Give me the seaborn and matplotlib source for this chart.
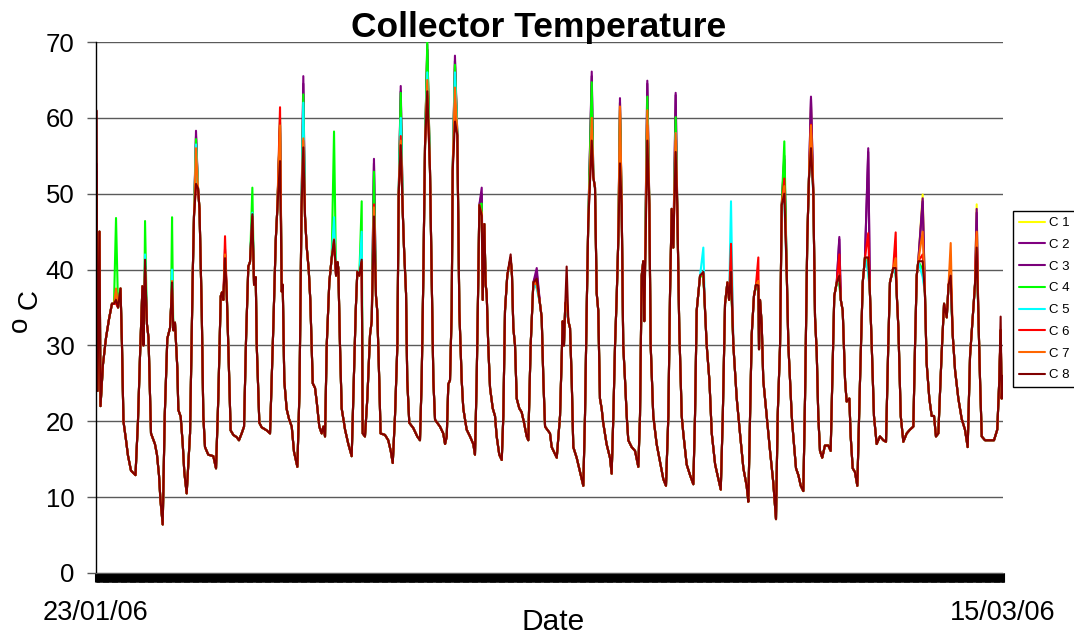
import matplotlib
matplotlib.use("Agg")
import matplotlib.pyplot as plt
from matplotlib.ticker import MultipleLocator, FixedLocator
import pandas as pd
import seaborn as sns

# shared trace (all collectors overlap away from the midday peaks), hours from start of record
base_hours = [
    0, 1.3, 3.1, 4.0, 6.2, 8.9, 11.6, 14.2, 16.0, 19.6, 21.8, 23.1, 24.4, 26.7, 28.4, 31.1, 35.1,
    37.3, 39.1, 41.3, 42.2, 42.9, 45.3, 46.7, 48.9, 52.4, 54.2, 56.0, 57.3, 59.3,
    61.1, 63.4, 65.8, 66.7, 68.7, 70.2, 72.3, 73.2, 75.3, 77.1, 78.5, 80.6,
    83.6, 86.0, 87.1, 90.7, 92.0, 94.0, 95.4, 96.9, 99.8, 104.3, 106.7,
    108.7, 110.9, 112.0, 113.2, 116.2, 117.6, 119.7, 122.1, 125.1, 127.1, 129.5, 131.6,
    133.4, 135.4, 136.9, 140.5, 142.0, 142.9, 145.2, 147.3, 151.8, 154.7,
    157.6, 159.8, 161.2, 165.1, 166.0, 167.4, 169.5, 171.6, 174.0, 176.0, 179.0,
    180.9, 182.7, 185.8, 187.3, 189.1, 190.5, 192.7, 194.7, 196.2, 198.5, 200.6, 202.1, 203.6,
    205.1, 207.4, 209.5, 213.4, 214.6, 215.4, 216.9, 218.4, 221.4, 224.3, 227.3,
    228.7, 230.9, 232.3, 234.1, 237.1, 239.1, 241.2, 243.6, 245.1, 248.9, 250.0, 251.8, 253.0,
    256.9, 259.8, 262.0, 263.8,
    265.8, 267.9, 269.1, 272.7, 273.8, 275.6, 276.7, 278.5, 282.1, 285.6, 288.0,
    289.5, 291.0, 292.5, 296.9, 298.4, 299.9, 301.4, 305.8, 308.7, 310.3, 311.8,
    313.2, 314.7, 316.2, 317.1, 321.2, 322.1, 323.0, 325.1, 326.5, 329.5, 332.5, 335.4, 336.9,
    338.4, 339.9, 340.8, 343.8, 345.2, 346.4, 347.3, 348.7, 350.3, 352.7, 354.7, 356.2, 358.5, 360.7,
    362.1, 363.6, 365.6, 369.8, 371.0, 372.5, 374.0, 376.3, 378.4, 380.5, 382.9, 384.3,
    386.4, 388.8, 394.7, 396.2, 397.7, 399.2, 403.6, 405.1, 409.6,
    412.5, 414.9, 416.0, 417.2, 419.9, 421.4, 422.9, 424.3, 427.3, 430.3, 433.2,
    434.7, 436.2, 437.6, 442.1, 443.6, 445.1, 446.5, 448.0, 449.5, 450.9, 453.9, 456.9, 458.4,
    459.9, 461.4, 462.9, 464.3, 467.3, 468.7, 470.3, 471.8, 473.2, 476.2, 479.2, 482.1,
    483.6, 485.1, 486.5, 487.4, 491.9, 493.1, 495.4, 498.4, 501.3, 504.3, 506.7,
    508.8, 510.3, 511.8, 513.2, 516.7, 518.5, 520.7, 522.1, 525.1, 528.1, 531.0,
    532.5, 534.0, 537.0, 541.4, 542.9, 545.3, 547.4, 550.4, 553.3, 555.4,
    557.2, 559.2, 561.3, 562.8, 566.6, 569.6, 572.5, 575.5, 578.4, 579.9,
    581.4, 582.9, 584.9, 586.7, 589.4, 590.3, 591.8, 593.2, 596.2, 599.2, 602.1, 604.5,
    606.0, 608.1, 609.6, 614.1, 615.5, 617.0, 618.5, 619.9, 622.3, 624.4, 626.5, 628.8,
    630.3, 632.3, 633.8, 637.7, 639.2, 640.7, 642.1, 643.6, 645.6, 648.0, 651.0, 653.1,
    654.6, 656.3, 658.5, 662.1, 663.8, 665.9, 667.3, 669.7, 670.9, 672.7, 674.7, 676.8,
    679.2, 681.6, 683.6, 688.0, 689.6, 691.6, 694.0, 696.9, 699.9, 702.3,
    704.3, 705.8, 708.7, 711.8, 713.3, 715.4, 717.7, 720.7, 723.6, 726.6,
    728.1, 729.6, 731.0, 736.9, 738.4, 740.8, 742.9, 745.0, 746.7, 748.8,
    751.8, 753.9, 756.3, 757.9, 761.6, 763.7, 766.6, 769.6, 772.5, 774.9,
    777.0, 779.4, 781.4, 784.3, 785.9, 787.4, 790.3, 794.8, 798.3, 801.2,
    803.0, 805.1, 806.3,
]
base_temp = [
    37, 24, 45, 22, 27.5, 31, 33.5, 35.5, 35.5, 35, 37.5, 30, 20, 17.5, 15.5, 13.5, 12.9,
    20, 28.5, 37.8, 30, 35, 32.8, 31, 18.4, 17, 15.6, 12.9, 9.6, 6.4,
    20.7, 30.9, 32.3, 35, 32, 33, 27, 21.5, 20.6, 17, 13.3, 10.5,
    18.4, 39.3, 47, 50.7, 48, 34.6, 20.7, 16.6, 15.6, 15.4, 13.8,
    23, 36.5, 37, 36, 37, 30, 18.8, 18.2, 17.9, 17.5, 18.4, 19.3,
    30.9, 40.4, 41, 38, 39, 30, 19.8, 19.2, 18.8, 18.4,
    32.3, 43.9, 48, 37.1, 38, 25.3, 21.6, 20.3, 19.3, 16, 14,
    24, 48, 47, 43, 40, 36, 25, 24.4, 22.6, 19.3, 18.4, 19.3, 18,
    30, 38.3, 41.5, 39.2, 41, 40.2, 30, 21.7, 18.9, 17, 15.4,
    23, 34.6, 39.7, 39.2, 18.4, 18, 23, 31.4, 33.2, 36.5, 34.6, 25.4, 18.4,
    18.2, 17.5, 16.1, 14.5,
    20.7, 30, 50, 47.6, 42.9, 36.9, 25.4, 19.8, 19.1, 18, 17.5,
    25.4, 39.2, 56.4, 53.1, 39.2, 25.4, 20.2, 19.3, 18.4, 17, 18,
    24.9, 25.4, 34.6, 53, 57.7, 46.2, 34.6, 25.4, 21.7, 18.9, 18, 17, 15.6,
    25.4, 39.2, 48.5, 36, 46, 38, 36.9, 30, 24.4, 21.7, 20.7, 18, 15.6, 14.9,
    20.7, 34.6, 39.2, 39.2, 32.3, 30, 23, 21.7, 21.2, 19.8, 18, 17.5,
    30, 38.3, 35.5, 33.7, 25.4, 19.3, 18.4, 16.6, 15.2,
    20.7, 33.2, 30, 35.5, 33.2, 32.3, 25.4, 16.6, 15.2, 13.3, 11.5,
    20.7, 34.6, 46.2, 52.2, 50.8, 36.9, 34.6, 23, 21.7, 19.8, 17, 15.2, 13.1,
    20.7, 30, 36.5, 43.9, 48.5, 30, 25.4, 20.7, 17.5, 16.6, 16.1, 14,
    20.7, 39.2, 41.1, 33.2, 48.5, 30, 20.7, 17, 14.7, 12.4, 11.5,
    20.7, 36.9, 48, 42.9, 48.5, 32.3, 20.7, 18.4, 14.3, 12.9, 11.7,
    20.7, 34.6, 39.2, 34.6, 30, 25.4, 18.4, 14.3, 12.4, 11,
    20.7, 35.5, 38.3, 36, 30, 23, 18.4, 13.8, 11.5, 9.4,
    20.7, 31.4, 36.5, 38, 29.5, 36, 32.8, 25.4, 20.7, 16.1, 11.9, 7.1,
    20.7, 30, 48.5, 39.2, 30, 25.4, 20.7, 18, 13.8, 12.9, 11.5, 10.8,
    23, 43.9, 52, 50, 33.7, 29.1, 20.7, 16.1, 15.2, 16.8, 16.8, 16.1,
    25.4, 36.5, 38.3, 36, 34.6, 25.4, 22.6, 23, 18, 13.8, 13.3, 11.5,
    25.4, 38.3, 41.6, 36.9, 30, 20.7, 17, 18, 17.5, 17.3,
    30, 38.3, 40.2, 36.9, 32.3, 20.7, 17.3, 18.4, 18.9, 19.3,
    30, 39.2, 41.1, 36.9, 27.7, 23, 20.7, 20.7, 18, 18.4,
    29.1, 35.5, 33.7, 38, 31.4, 26.7, 23, 20.3, 18.9, 16.6,
    28.6, 33.7, 38, 34.6, 25.4, 18, 17.5, 17.5, 17.5, 18.9,
    25.4, 23, 26,
]

# daily peaks, where the collectors separate
peak_hours = [0.3, 17.8, 43.6, 67.6, 88.9, 114.7, 139.0, 163.6, 184.3, 211.6,
              236.2, 247.1, 270.9, 294.5, 319.1, 342.9, 368.6, 391.8, 418.4, 440.7,
              465.8, 490.1, 515.3, 539.9, 564.5, 588.8, 611.9, 635.6, 660.8, 686.5,
              710.9, 734.9, 759.8, 782.9, 804.2]
peak_c1 = [37, 37, 40, 38, 55, 41, 45, 58, 62, 44,
           41, 49, 61, 69, 67, 48, 41.5, 38.5, 36, 62,
           62, 63, 61, 39.5, 39, 37.5, 53, 61.5, 39, 41,
           40, 49.9, 38.5, 48.6, 32]
peak_c2 = [54, 36.5, 40, 38, 58.3, 42.7, 47, 59.4, 65.5, 44,
           41, 54.6, 64.2, 69.7, 68.2, 50.8, 41.5, 40.2, 35, 66.1,
           62.6, 64.9, 63.3, 39.5, 39, 37.5, 55, 62.8, 44.3, 56,
           40, 49.4, 38.5, 48, 32]
peak_c3 = [53, 36, 40, 38, 57.5, 42, 47, 59, 64.5, 44,
           41, 54, 63.5, 69, 67.5, 50, 41.5, 39.5, 35, 65.5,
           62, 64.5, 63, 39.5, 39, 37.5, 54.5, 62.5, 44, 55.5,
           40, 49, 38.5, 47.5, 32]
peak_c4 = [50.5, 46.8, 46.4, 46.9, 57.2, 41, 50.8, 60, 63.1, 58.2,
           49, 52.9, 63.3, 70, 67, 48.7, 41.5, 38, 35.5, 64.7,
           61, 62.8, 60.1, 39, 38.5, 37, 56.9, 58, 38, 40,
           39.5, 40, 38, 42, 32]
peak_c5 = [47, 36, 42, 40, 56.5, 41, 47.5, 58, 62, 46.9,
           45, 48, 60, 66, 66, 47, 41, 37.5, 35, 58.7,
           58, 60, 58, 42.9, 49, 37.5, 49, 55, 38.5, 39.5,
           39.5, 39, 38, 42, 31]
peak_c6 = [45, 35.5, 40.5, 37.5, 51, 44.4, 47, 61.4, 57, 43.5,
           41, 48.6, 57.6, 63, 62, 47, 41.5, 38.5, 36, 57.5,
           58, 59, 57, 39.5, 43.4, 41.6, 52, 59.1, 42, 44.8,
           44.9, 42, 39, 44.8, 32]
peak_c7 = [45, 37.5, 40, 38.5, 56, 42, 46, 59, 57.3, 44,
           41, 48.2, 57, 65, 64, 47.5, 41.5, 38, 36, 60,
           61.5, 61, 58, 39.5, 39.5, 38.5, 51, 59, 39, 41.5,
           41.5, 45, 43.5, 45, 32]
peak_c8 = [61, 36, 41.3, 38.3, 51.3, 41.5, 47.3, 54.3, 56.1, 43.9,
           41.3, 47, 56.4, 63.5, 59.5, 47.1, 42, 38.8, 40.4, 57,
           54, 57, 55.5, 39.7, 39.7, 37.9, 50, 56, 39.2, 41.6,
           40.2, 41.1, 39.2, 42.9, 33.8]

sensors = ["C 1", "C 2", "C 3", "C 4", "C 5", "C 6", "C 7", "C 8"]
colours = ["#FFFF00", "#800080", "#7A007A", "#00FF00", "#00FFFF", "#FF0000", "#FF6600", "#800000"]
date_labels = ["23/01/06", "15/03/06"]

frames = []
for name, peaks in zip(sensors, [peak_c1, peak_c2, peak_c3, peak_c4, peak_c5, peak_c6, peak_c7, peak_c8]):
    frames.append(pd.DataFrame({"hour": base_hours + peak_hours,
                                "temp": base_temp + peaks,
                                "sensor": name}))
df = pd.concat(frames, ignore_index=True)

sns.set_style("white")
plt.rcParams["font.family"] = ["Liberation Sans", "DejaVu Sans"]
plt.rcParams["text.color"] = "black"
plt.rcParams["axes.labelcolor"] = "black"
plt.rcParams["xtick.labelcolor"] = "black"
plt.rcParams["ytick.labelcolor"] = "black"

fig = plt.figure(figsize=(10.74, 6.37), dpi=100)
ax = fig.add_axes([96 / 1074, 1 - 573 / 637, 907 / 1074, 531 / 637])

sns.lineplot(data=df, x="hour", y="temp", hue="sensor", hue_order=sensors,
             palette=colours, estimator=None, sort=True, linewidth=1.5, ax=ax)

end_hour = base_hours[-1]
ax.set_xlim(0, end_hour)
ax.set_ylim(0, 70)
ax.set_yticks(range(0, 71, 10))
ax.yaxis.grid(True, color="#5a5a5a", linewidth=1)
ax.set_axisbelow(True)

# one tick per record step: Excel draws these as a solid black band
ax.xaxis.set_major_locator(FixedLocator([0, end_hour]))
ax.set_xticklabels(date_labels)
ax.xaxis.set_minor_locator(MultipleLocator(1))
ax.tick_params(axis="x", which="both", direction="out", length=6.5, width=2.2,
               color="black", bottom=True)
ax.tick_params(axis="x", which="major", labelsize=19.5, pad=13, labelcolor="black")
ax.tick_params(axis="y", direction="out", length=6.5, width=1, color="#5a5a5a",
               left=True, labelsize=18.5, pad=9, labelcolor="black")

for side in ["top", "right"]:
    ax.spines[side].set_visible(False)
ax.spines["left"].set_color("black")
ax.spines["left"].set_linewidth(1)
ax.spines["bottom"].set_color("#5a5a5a")

ax.set_xlabel("Date", fontsize=21.5, color="black")
ax.xaxis.set_label_coords(0.504, -0.066)
ax.set_ylabel("")

fig.text(539 / 1074, 1 - 27 / 637, "Collector Temperature", ha="center", va="center",
         fontsize=25.5, fontweight="bold", color="black")
fig.text(29.5 / 1074, 1 - 299 / 637, "C", rotation=90, ha="center", va="center",
         fontsize=20, color="black")
fig.text(19.5 / 1074, 1 - 324 / 637, "o", rotation=90, ha="center", va="center",
         fontsize=20, color="black")

sns.move_legend(ax, "upper left", bbox_to_anchor=(1013 / 1074, 1 - 211 / 637),
                bbox_transform=fig.transFigure, title=None, frameon=True, fancybox=False,
                edgecolor="black", framealpha=1, fontsize=9.5, labelspacing=0.72,
                handlelength=2.0, handletextpad=0.3, borderpad=0.45, borderaxespad=0)
ax.get_legend().get_frame().set_linewidth(1)
for t in ax.get_legend().get_texts():
    t.set_color("black")

fig.savefig("out.png", dpi=100)
